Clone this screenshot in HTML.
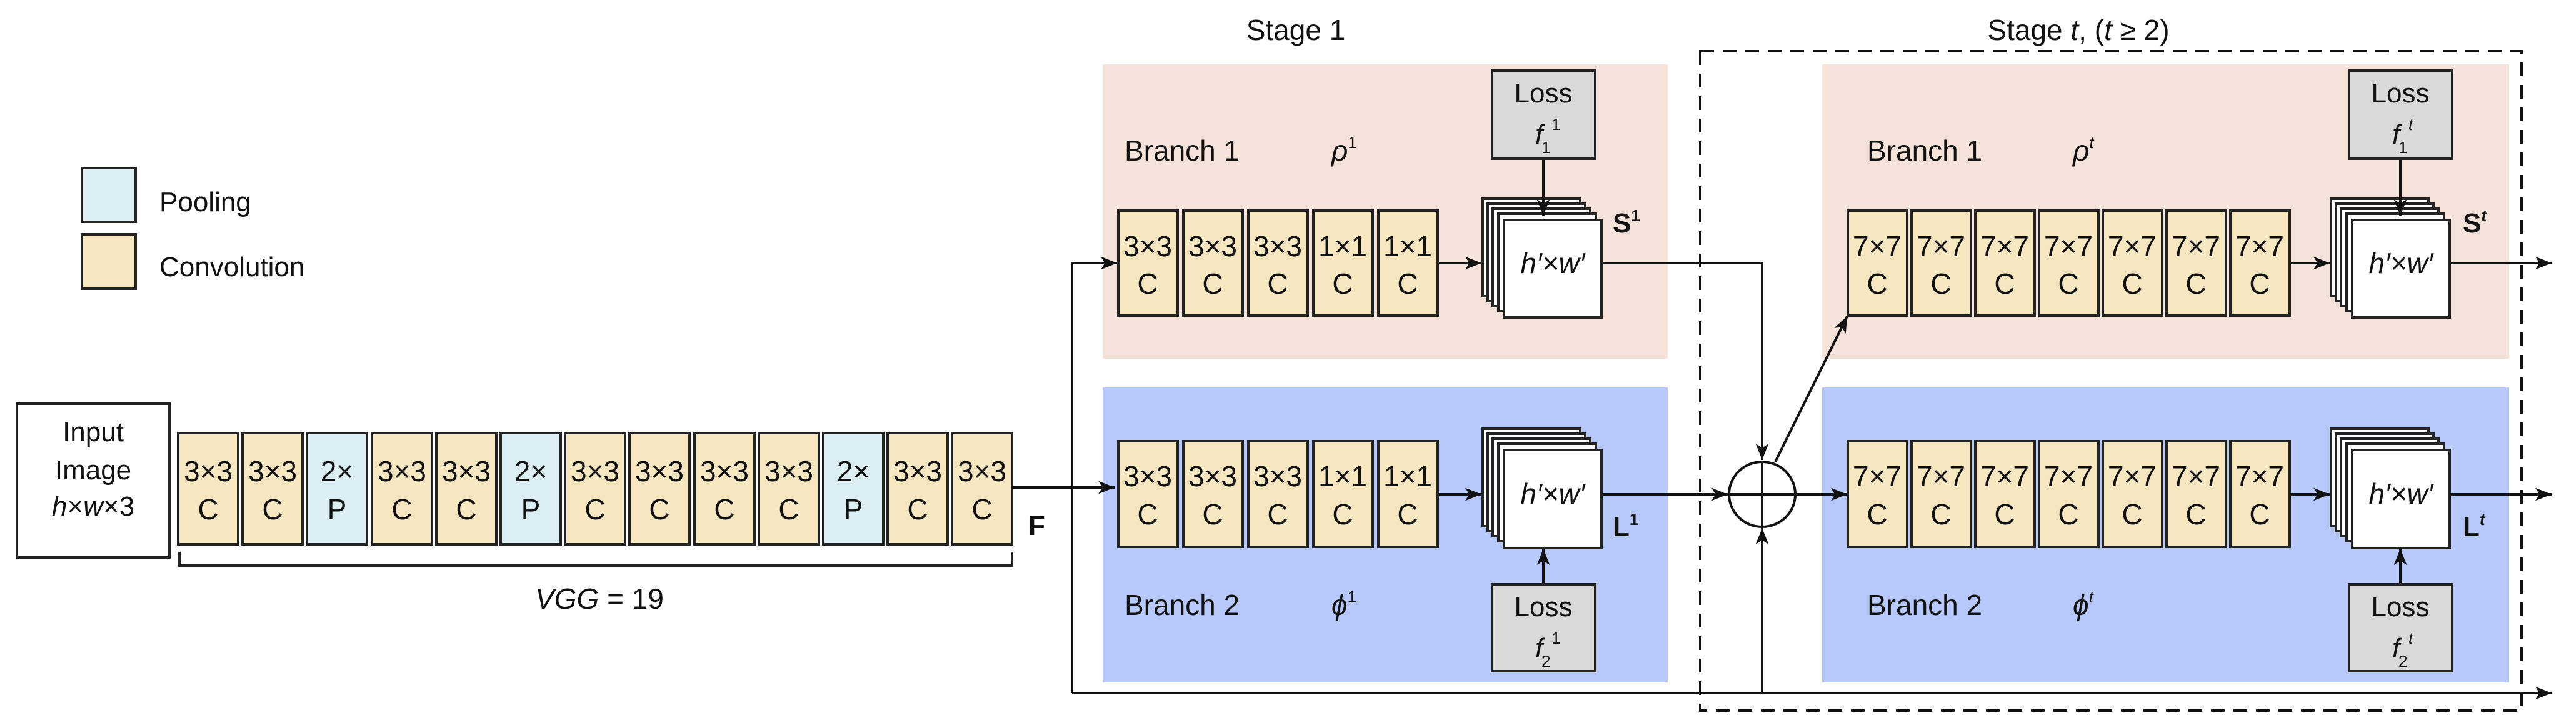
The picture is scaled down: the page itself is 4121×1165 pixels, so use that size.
<!DOCTYPE html>
<html><head><meta charset="utf-8"><style>
html,body{margin:0;padding:0;background:#fff;}
svg{display:block;}
text{font-family:"Liberation Sans",Arial,sans-serif;fill:#111;}
</style></head><body>
<svg width="4121" height="1165" viewBox="0 0 4121 1165" xmlns="http://www.w3.org/2000/svg">
<defs>
<marker id="ar" viewBox="0 0 20 16" refX="20" refY="8" markerWidth="26" markerHeight="21" markerUnits="userSpaceOnUse" orient="auto"><path d="M0,0 L20,8 L0,16 L5,8 Z" fill="#111"/></marker>
</defs>

<rect x="1764" y="103" width="904" height="471" fill="#f5e3d9"/>
<rect x="1764" y="620" width="904" height="472" fill="#b7c9fa"/>
<rect x="2915" y="103" width="1099" height="471" fill="#f5e3d9"/>
<rect x="2915" y="620" width="1099" height="472" fill="#b7c9fa"/>

<rect x="2720" y="82" width="1314" height="1055" fill="none" stroke="#111" stroke-width="4" stroke-dasharray="22,14"/>

<g font-size="46">
<text x="2073" y="64" text-anchor="middle">Stage 1</text>
<text x="3325" y="64" text-anchor="middle">Stage <tspan font-style="italic">t</tspan>, (<tspan font-style="italic">t</tspan> ≥ 2)</text>
</g>

<rect x="131" y="269" width="86" height="86" fill="#dbeef4" stroke="#222" stroke-width="4"/>
<rect x="131" y="375" width="86" height="87" fill="#f6e7c1" stroke="#222" stroke-width="4"/>
<text x="255" y="338" font-size="44">Pooling</text>
<text x="255" y="442" font-size="44">Convolution</text>

<rect x="27" y="646" width="244" height="246" fill="#fff" stroke="#222" stroke-width="4"/>
<g font-size="44" text-anchor="middle">
<text x="149" y="706">Input</text>
<text x="149" y="767">Image</text>
<text x="149" y="825"><tspan font-style="italic">h</tspan>×<tspan font-style="italic">w</tspan>×3</text>
</g>

<g stroke="#222" stroke-width="4">
<rect x="285" y="693" width="96" height="178" fill="#f6e7c1"/>
<rect x="388" y="693" width="96" height="178" fill="#f6e7c1"/>
<rect x="491" y="693" width="96" height="178" fill="#dbeef4"/>
<rect x="595" y="693" width="96" height="178" fill="#f6e7c1"/>
<rect x="698" y="693" width="96" height="178" fill="#f6e7c1"/>
<rect x="801" y="693" width="96" height="178" fill="#dbeef4"/>
<rect x="904" y="693" width="96" height="178" fill="#f6e7c1"/>
<rect x="1007" y="693" width="96" height="178" fill="#f6e7c1"/>
<rect x="1111" y="693" width="96" height="178" fill="#f6e7c1"/>
<rect x="1214" y="693" width="96" height="178" fill="#f6e7c1"/>
<rect x="1317" y="693" width="96" height="178" fill="#dbeef4"/>
<rect x="1420" y="693" width="96" height="178" fill="#f6e7c1"/>
<rect x="1523" y="693" width="96" height="178" fill="#f6e7c1"/>
</g>
<g font-size="46" text-anchor="middle">
<text x="333" y="770">3×3</text><text x="333" y="831">C</text>
<text x="436" y="770">3×3</text><text x="436" y="831">C</text>
<text x="539" y="770">2×</text><text x="539" y="831">P</text>
<text x="643" y="770">3×3</text><text x="643" y="831">C</text>
<text x="746" y="770">3×3</text><text x="746" y="831">C</text>
<text x="849" y="770">2×</text><text x="849" y="831">P</text>
<text x="952" y="770">3×3</text><text x="952" y="831">C</text>
<text x="1055" y="770">3×3</text><text x="1055" y="831">C</text>
<text x="1159" y="770">3×3</text><text x="1159" y="831">C</text>
<text x="1262" y="770">3×3</text><text x="1262" y="831">C</text>
<text x="1365" y="770">2×</text><text x="1365" y="831">P</text>
<text x="1468" y="770">3×3</text><text x="1468" y="831">C</text>
<text x="1571" y="770">3×3</text><text x="1571" y="831">C</text>
</g>
<path d="M287,883 V905 H1619 V883" fill="none" stroke="#222" stroke-width="4"/>
<text x="959" y="974" font-size="46" text-anchor="middle"><tspan font-style="italic">VGG</tspan> = 19</text>
<text x="1645" y="856" font-size="44" font-weight="bold">F</text>

<g stroke="#111" stroke-width="4" fill="none">
<line x1="1619" y1="780" x2="1783" y2="780" marker-end="url(#ar)"/>
<path d="M1715,1109 V421 H1787" marker-end="url(#ar)"/>
<line x1="1715" y1="1109" x2="4082" y2="1109" marker-end="url(#ar)"/>
<line x1="2300" y1="421" x2="2370" y2="421" marker-end="url(#ar)"/>
<line x1="2300" y1="791" x2="2370" y2="791" marker-end="url(#ar)"/>
<line x1="3663" y1="421" x2="3727" y2="421" marker-end="url(#ar)"/>
<line x1="3663" y1="791" x2="3727" y2="791" marker-end="url(#ar)"/>
<path d="M2562,421 H2819 V736" marker-end="url(#ar)"/>
<line x1="2562" y1="791" x2="2764" y2="791" marker-end="url(#ar)"/>
<line x1="2819" y1="1109" x2="2819" y2="845" marker-end="url(#ar)"/>
<line x1="2872" y1="791" x2="2955" y2="791" marker-end="url(#ar)"/>
<line x1="2840" y1="739" x2="2955" y2="506" marker-end="url(#ar)"/>
<line x1="3919" y1="421" x2="4082" y2="421" marker-end="url(#ar)"/>
<line x1="3919" y1="791" x2="4082" y2="791" marker-end="url(#ar)"/>
</g>
<ellipse cx="2819" cy="791" rx="53" ry="52" fill="none" stroke="#111" stroke-width="4"/>
<line x1="2766" y1="791" x2="2872" y2="791" stroke="#111" stroke-width="4"/>
<line x1="2819" y1="739" x2="2819" y2="843" stroke="#111" stroke-width="4"/>

<g stroke="#222" stroke-width="4" fill="#f6e7c1">
<rect x="1789" y="337" width="95" height="168"/><rect x="1893" y="337" width="95" height="168"/><rect x="1997" y="337" width="95" height="168"/><rect x="2101" y="337" width="95" height="168"/><rect x="2205" y="337" width="95" height="168"/>
<rect x="1789" y="706" width="95" height="169"/><rect x="1893" y="706" width="95" height="169"/><rect x="1997" y="706" width="95" height="169"/><rect x="2101" y="706" width="95" height="169"/><rect x="2205" y="706" width="95" height="169"/>
</g>
<g font-size="46" text-anchor="middle">
<text x="1836" y="410">3×3</text><text x="1836" y="470">C</text>
<text x="1940" y="410">3×3</text><text x="1940" y="470">C</text>
<text x="2044" y="410">3×3</text><text x="2044" y="470">C</text>
<text x="2148" y="410">1×1</text><text x="2148" y="470">C</text>
<text x="2252" y="410">1×1</text><text x="2252" y="470">C</text>
<text x="1836" y="778">3×3</text><text x="1836" y="839">C</text>
<text x="1940" y="778">3×3</text><text x="1940" y="839">C</text>
<text x="2044" y="778">3×3</text><text x="2044" y="839">C</text>
<text x="2148" y="778">1×1</text><text x="2148" y="839">C</text>
<text x="2252" y="778">1×1</text><text x="2252" y="839">C</text>
</g>

<g stroke="#222" stroke-width="4" fill="#f6e7c1">
<rect x="2956" y="337" width="95" height="168"/><rect x="3058" y="337" width="95" height="168"/><rect x="3160" y="337" width="95" height="168"/><rect x="3262" y="337" width="95" height="168"/><rect x="3364" y="337" width="95" height="168"/><rect x="3466" y="337" width="95" height="168"/><rect x="3568" y="337" width="95" height="168"/>
<rect x="2956" y="706" width="95" height="169"/><rect x="3058" y="706" width="95" height="169"/><rect x="3160" y="706" width="95" height="169"/><rect x="3262" y="706" width="95" height="169"/><rect x="3364" y="706" width="95" height="169"/><rect x="3466" y="706" width="95" height="169"/><rect x="3568" y="706" width="95" height="169"/>
</g>
<g font-size="46" text-anchor="middle">
<text x="3003" y="410">7×7</text><text x="3003" y="470">C</text>
<text x="3105" y="410">7×7</text><text x="3105" y="470">C</text>
<text x="3207" y="410">7×7</text><text x="3207" y="470">C</text>
<text x="3309" y="410">7×7</text><text x="3309" y="470">C</text>
<text x="3411" y="410">7×7</text><text x="3411" y="470">C</text>
<text x="3513" y="410">7×7</text><text x="3513" y="470">C</text>
<text x="3615" y="410">7×7</text><text x="3615" y="470">C</text>
<text x="3003" y="778">7×7</text><text x="3003" y="839">C</text>
<text x="3105" y="778">7×7</text><text x="3105" y="839">C</text>
<text x="3207" y="778">7×7</text><text x="3207" y="839">C</text>
<text x="3309" y="778">7×7</text><text x="3309" y="839">C</text>
<text x="3411" y="778">7×7</text><text x="3411" y="839">C</text>
<text x="3513" y="778">7×7</text><text x="3513" y="839">C</text>
<text x="3615" y="778">7×7</text><text x="3615" y="839">C</text>
</g>

<g stroke="#222" stroke-width="4" fill="#fff">
<rect x="2372" y="318" width="156" height="156"/><rect x="2380" y="326" width="156" height="156"/><rect x="2388" y="334" width="156" height="156"/><rect x="2397" y="342" width="156" height="156"/><rect x="2406" y="352" width="156" height="156"/>
<rect x="2372" y="686" width="156" height="156"/><rect x="2380" y="694" width="156" height="156"/><rect x="2388" y="702" width="156" height="156"/><rect x="2397" y="710" width="156" height="156"/><rect x="2406" y="720" width="156" height="157"/>
<rect x="3729" y="318" width="156" height="156"/><rect x="3737" y="326" width="156" height="156"/><rect x="3745" y="334" width="156" height="156"/><rect x="3754" y="342" width="156" height="156"/><rect x="3763" y="352" width="156" height="156"/>
<rect x="3729" y="686" width="156" height="156"/><rect x="3737" y="694" width="156" height="156"/><rect x="3745" y="702" width="156" height="156"/><rect x="3754" y="710" width="156" height="156"/><rect x="3763" y="720" width="156" height="157"/>
</g>
<g stroke="#111" stroke-width="4" fill="none">
<line x1="2469" y1="254" x2="2469" y2="345" marker-end="url(#ar)"/>
<line x1="2469" y1="935" x2="2469" y2="878" marker-end="url(#ar)"/>
<line x1="3840" y1="254" x2="3840" y2="345" marker-end="url(#ar)"/>
<line x1="3840" y1="935" x2="3840" y2="878" marker-end="url(#ar)"/>
</g>
<g font-size="46" text-anchor="middle" font-style="italic">
<text x="2484" y="437">h′×w′</text><text x="2484" y="806">h′×w′</text>
<text x="3841" y="437">h′×w′</text><text x="3841" y="806">h′×w′</text>
</g>
<g font-size="44" font-weight="bold">
<text x="2580" y="372">S<tspan font-size="26" dy="-18">1</tspan></text>
<text x="2580" y="858">L<tspan font-size="26" dy="-18">1</tspan></text>
<text x="3940" y="372">S<tspan font-size="26" dy="-18" font-style="italic">t</tspan></text>
<text x="3940" y="858">L<tspan font-size="26" dy="-18" font-style="italic">t</tspan></text>
</g>

<g stroke="#222" stroke-width="4" fill="#d9d9d9">
<rect x="2387" y="113" width="165" height="141"/>
<rect x="2387" y="935" width="165" height="139"/>
<rect x="3758" y="113" width="165" height="141"/>
<rect x="3758" y="935" width="165" height="139"/>
</g>
<g font-size="44" text-anchor="middle">
<text x="2469" y="164">Loss</text><text x="2469" y="986">Loss</text>
<text x="3840" y="164">Loss</text><text x="3840" y="986">Loss</text>
</g>
<g font-size="44">
<text x="2456" y="230" font-style="italic">f</text><text x="2466" y="245" font-size="26">1</text><text x="2482" y="208" font-size="26">1</text>
<text x="2456" y="1052" font-style="italic">f</text><text x="2466" y="1067" font-size="26">2</text><text x="2482" y="1030" font-size="26">1</text>
<text x="3827" y="230" font-style="italic">f</text><text x="3837" y="245" font-size="26">1</text><text x="3853" y="208" font-size="26" font-style="italic">t</text>
<text x="3827" y="1052" font-style="italic">f</text><text x="3837" y="1067" font-size="26">2</text><text x="3853" y="1030" font-size="26" font-style="italic">t</text>
</g>

<g font-size="46">
<text x="1799" y="257">Branch 1</text>
<text x="1799" y="984">Branch 2</text>
<text x="2130" y="257" font-style="italic">ρ<tspan font-size="26" dy="-20" font-style="normal">1</tspan></text>
<text x="2130" y="984" font-style="italic">ϕ<tspan font-size="26" dy="-20" font-style="normal">1</tspan></text>
<text x="2987" y="257">Branch 1</text>
<text x="2987" y="984">Branch 2</text>
<text x="3316" y="257" font-style="italic">ρ<tspan font-size="26" dy="-20">t</tspan></text>
<text x="3316" y="984" font-style="italic">ϕ<tspan font-size="26" dy="-20">t</tspan></text>
</g>
</svg>
</body></html>
